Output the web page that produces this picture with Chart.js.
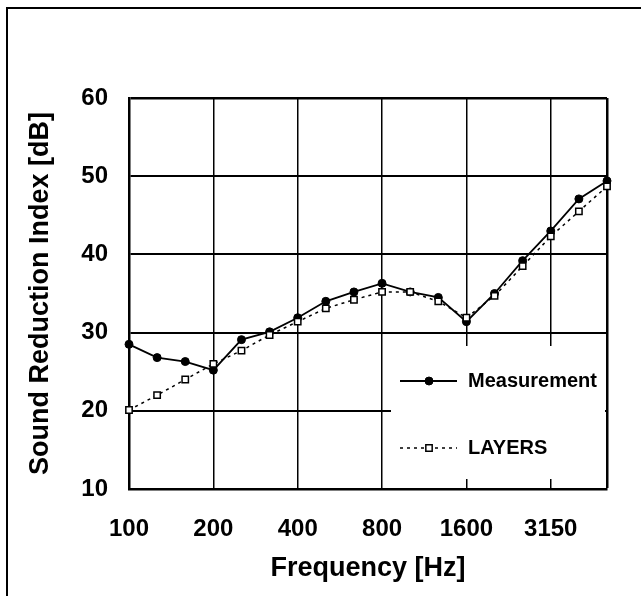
<!DOCTYPE html>
<html>
<head>
<meta charset="utf-8">
<script src="https://cdn.jsdelivr.net/npm/chart.js@4.4.1/dist/chart.umd.min.js"></script>
<style>
  html, body { margin: 0; padding: 0; background: #fff; }
  canvas { display: block; }
</style>
</head>
<body>
<canvas id="myChart" width="641" height="596"></canvas>
<script>
// third-octave bands, only some of them get a label on the axis
const bands = ["100", "125", "160", "200", "250", "315", "400", "500", "630", "800", "1000", "1250", "1600", "2000", "2500", "3150", "4000", "5000"];
const tickBands = ["100", "200", "400", "800", "1600", "3150"];
const measurement = [28.5, 26.8, 26.3, 25.2, 29.1, 30.1, 31.9, 34.0, 35.2, 36.3, 35.2, 34.5, 31.4, 35.0, 39.2, 43.0, 47.1, 49.4];
const layers = [20.1, 22.0, 24.0, 26.0, 27.7, 29.7, 31.4, 33.1, 34.2, 35.2, 35.2, 34.0, 31.9, 34.7, 38.5, 42.3, 45.5, 48.7];
const yMin = 10, yMax = 60, yStep = 10;

const FONT = "'Liberation Sans', Arial, sans-serif";

// outer frame + the legend box that sits inside the plot
const frameAndLegend = {
  id: "frameAndLegend",
  beforeDraw(chart) {
    const ctx = chart.ctx;
    ctx.save();
    ctx.fillStyle = "#fff";
    ctx.fillRect(0, 0, chart.width, chart.height);
    ctx.strokeStyle = "#000";
    ctx.lineWidth = 2;
    ctx.beginPath();
    ctx.moveTo(7, chart.height);
    ctx.lineTo(7, 8);
    ctx.lineTo(chart.width, 8);
    ctx.stroke();
    ctx.restore();
  },
  beforeDatasetsDraw(chart) {
    const ctx = chart.ctx;
    const area = chart.chartArea;
    const left = area.left + 262, top = area.top + 248;
    ctx.save();
    ctx.fillStyle = "#fff";
    ctx.fillRect(left, top, area.right - 2 - left, area.bottom - 10 - top);
    chart.data.datasets.forEach((ds, i) => {
      const y = top + 35 + i * 67;
      ctx.strokeStyle = ds.borderColor;
      ctx.lineWidth = ds.borderWidth;
      ctx.setLineDash(ds.borderDash || []);
      ctx.beginPath();
      ctx.moveTo(left + 9, y);
      ctx.lineTo(left + 66, y);
      ctx.stroke();
      ctx.setLineDash([]);
      ctx.fillStyle = ds.pointBackgroundColor;
      ctx.strokeStyle = ds.pointBorderColor;
      ctx.lineWidth = ds.pointBorderWidth;
      Chart.helpers.drawPoint(ctx, {pointStyle: ds.pointStyle, radius: ds.pointRadius, borderWidth: ds.pointBorderWidth, rotation: 0}, left + 38, y);
      ctx.fillStyle = "#000";
      ctx.font = "bold 20px " + FONT;
      ctx.textBaseline = "middle";
      ctx.fillText(ds.label, left + 77, y);
    });
    ctx.restore();
  }
};

const data = {
  labels: bands,
  datasets: [
    {
      label: "Measurement",
      data: measurement,
      borderColor: "#000",
      borderWidth: 1.8,
      pointStyle: "circle",
      pointRadius: 4,
      pointBackgroundColor: "#000",
      pointBorderColor: "#000",
      pointBorderWidth: 1,
      order: 1
    },
    {
      label: "LAYERS",
      data: layers,
      borderColor: "#000",
      borderWidth: 1.5,
      borderDash: [3, 4],
      pointStyle: "rect",
      pointRadius: 4.5,
      pointBackgroundColor: "#fff",
      pointBorderColor: "#000",
      pointBorderWidth: 1.5,
      order: 0
    }
  ]
};

const config = {
  type: "line",
  data,
  options: {
    responsive: false,
    animation: false,
    layout: { padding: { top: 98, right: 34, left: 0, bottom: 0 } },
    plugins: { legend: { display: false }, tooltip: { enabled: false } },
    scales: {
      x: {
        type: "category",
        offset: false,
        afterFit: s => { s.height = 107; },
        grid: {
          drawTicks: false,
          color: c => (c.index % 3 === 0 || c.index === bands.length - 1) ? "#000" : "rgba(0,0,0,0)",
          lineWidth: c => c.index === bands.length - 1 ? 2.5 : 1.5
        },
        border: { color: "#000", width: 2.5 },
        ticks: {
          autoSkip: false,
          maxRotation: 0,
          padding: 26,
          color: "#000",
          font: { family: FONT, size: 24, weight: "bold" },
          callback: (v, i) => tickBands.includes(bands[i]) ? bands[i] : ""
        },
        title: {
          display: true,
          text: "Frequency [Hz]",
          color: "#000",
          font: { family: FONT, size: 27, weight: "bold" },
          padding: { top: 0, bottom: 11 }
        }
      },
      y: {
        min: yMin,
        max: yMax,
        afterFit: s => { s.width = 129; },
        grid: { drawTicks: false, color: "#000", lineWidth: c => c.index === 5 ? 2.5 : 2 },
        border: { color: "#000", width: 2.5 },
        ticks: {
          stepSize: yStep,
          padding: 21,
          color: "#000",
          font: { family: FONT, size: 24, weight: "bold" }
        },
        title: {
          display: true,
          text: "Sound Reduction Index [dB]",
          color: "#000",
          font: { family: FONT, size: 27, weight: "bold" },
          padding: { top: 24, bottom: 0 }
        }
      }
    }
  },
  plugins: [frameAndLegend]
};

const myChart = new Chart(document.getElementById("myChart"), config);
</script>
</body>
</html>
